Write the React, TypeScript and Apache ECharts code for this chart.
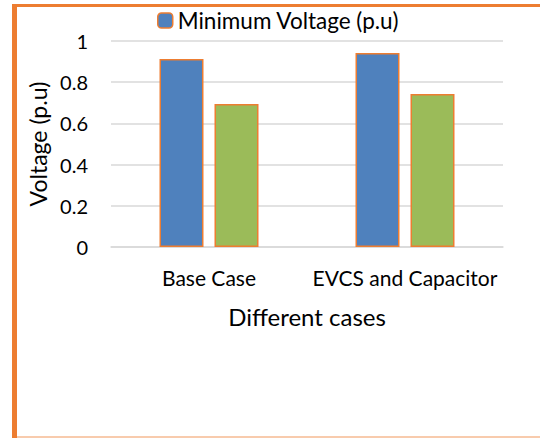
import React, { useEffect, useRef } from "react";
import * as echarts from "echarts";

const categories = ["Base Case", "EVCS and Capacitor"];
const minVoltage = [0.913, 0.942];
const secondVoltage = [0.694, 0.743];
const yTicks = [0, 0.2, 0.4, 0.6, 0.8, 1];

export default function App() {
  const ref = useRef<HTMLDivElement>(null);
  useEffect(() => {
    if (!ref.current) return;
    const chart = echarts.init(ref.current, undefined, { renderer: "svg" });
    const font = "Lato";
    chart.setOption({
      animation: false,
      backgroundColor: "#ffffff",
      textStyle: { fontFamily: font },
      legend: {
        data: ["Minimum Voltage (p.u)"],
        top: 9,
        left: 157,
        padding: 0,
        itemWidth: 15,
        itemHeight: 15,
        itemGap: 5,
        textStyle: { fontSize: 22.5, color: "#000", fontFamily: font },
        itemStyle: { borderColor: "#ED7D31", borderWidth: 1.5 },
      },
      grid: { left: 111, right: 37, top: 41, bottom: 191, containLabel: false },
      xAxis: {
        type: "category",
        data: categories,
        axisLine: { show: true, lineStyle: { color: "#d9d9d9", width: 1.5 } },
        axisTick: { show: false },
        axisLabel: { fontSize: 21, color: "#000", margin: 20, interval: 0, fontFamily: font },
        name: "Different cases",
        nameLocation: "middle",
        nameGap: 57,
        nameTextStyle: { fontSize: 24, color: "#000", fontFamily: font },
      },
      yAxis: {
        type: "value",
        min: yTicks[0],
        max: yTicks[yTicks.length - 1],
        interval: 0.2,
        axisLine: { show: false },
        axisTick: { show: false },
        splitLine: { lineStyle: { color: "#d9d9d9", width: 1.5 } },
        axisLabel: { fontSize: 20, color: "#000", margin: 23, fontFamily: font },
        name: "Voltage (p.u)",
        nameLocation: "middle",
        nameGap: 53,
        nameTextStyle: { fontSize: 23, color: "#000", fontFamily: font },
      },
      series: [
        {
          name: "Minimum Voltage (p.u)",
          type: "bar",
          data: minVoltage,
          barWidth: 44,
          barGap: "25%",
          itemStyle: { color: "#4F81BD", borderColor: "#ED7D31", borderWidth: 1.5 },
        },
        {
          name: "Voltage 2",
          type: "bar",
          data: secondVoltage,
          barWidth: 44,
          barGap: "25%",
          itemStyle: { color: "#9BBB59", borderColor: "#ED7D31", borderWidth: 1.5 },
        },
      ],
      graphic: [
        { type: "rect", shape: { x: 12, y: 4, width: 528, height: 3 }, style: { fill: "#ED7D31" }, silent: true },
        { type: "rect", shape: { x: 12, y: 4, width: 5, height: 434 }, style: { fill: "#ED7D31" }, silent: true },
        { type: "rect", shape: { x: 17, y: 436, width: 523, height: 2 }, style: { fill: "#F8CBAD" }, silent: true },
      ],
    });
    return () => chart.dispose();
  }, []);
  return (
    <div
      ref={ref}
      style={{ position: "fixed", left: 0, top: 0, width: 540, height: 438 }}
    />
  );
}
